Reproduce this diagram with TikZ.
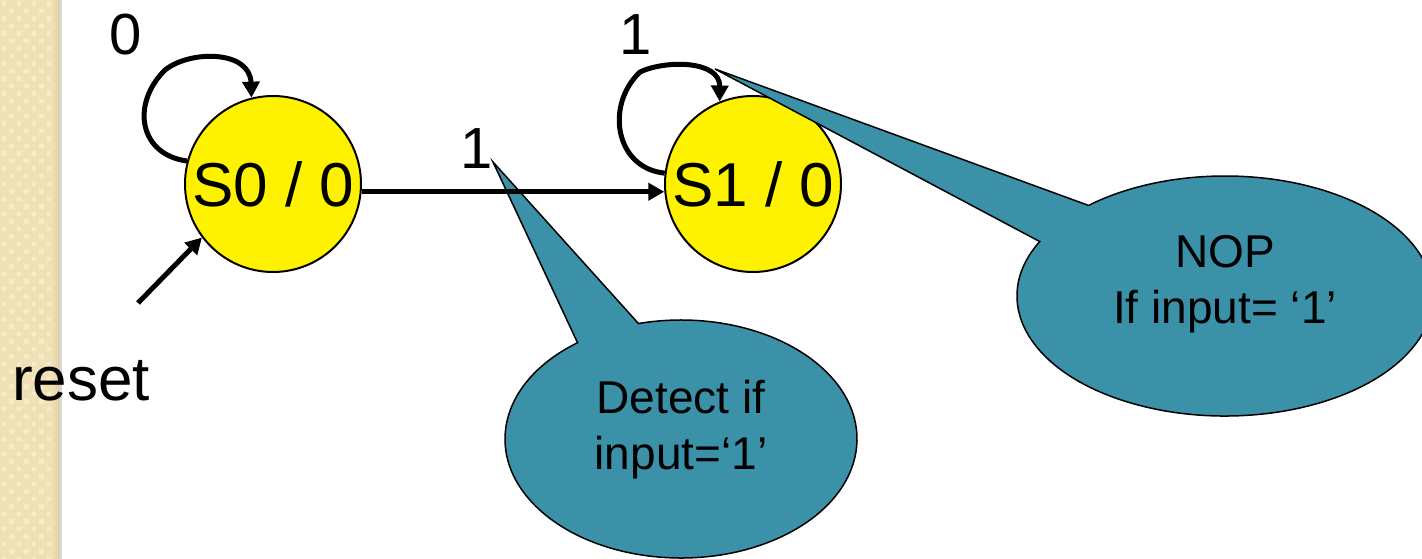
\documentclass[tikz,border=0pt]{standalone}
\usepackage{fontspec}
\setmainfont{Liberation Sans}
\usetikzlibrary{arrows.meta,calc}
\definecolor{bubbleteal}{RGB}{58,145,168}
\definecolor{stripbeige}{RGB}{240,224,182}
\definecolor{stripcell}{RGB}{247,235,200}
\definecolor{stripedge}{RGB}{222,206,166}
\begin{document}
\begin{tikzpicture}[x=1pt,y=-1pt,
  state/.style={circle,draw=black,line width=2pt,fill=yellow,minimum size=176pt,inner sep=0pt,font=\fontsize{62}{74}\selectfont},
  conn/.style={line width=5pt,-{Triangle[length=16pt,width=17pt]}},
  lbl/.style={anchor=base,inner sep=0pt,font=\fontsize{58}{70}\selectfont},
  bubble/.style={fill=bubbleteal,draw=black,line width=1.5pt},
  btext/.style={align=center,inner sep=0pt,font=\fontsize{46}{56}\selectfont}]
\useasboundingbox (0,0) rectangle (1422,559);
\clip (0,0) rectangle (1422,559);
\fill[white] (0,0) rectangle (1422,559);
% textured side strip
\fill[stripbeige] (0,0) rectangle (61,559);
\foreach \i in {0,...,7}{
  \foreach \j in {0,...,74}{
    \pgfmathparse{int(mod(\i+\j,2))}
    \ifnum\pgfmathresult=0
      \fill[stripcell] (\i*7.5+1.5,\j*7.5+1.5) rectangle ++(4.5,4.5);
    \fi
  }
}
\shade[left color=stripbeige,right color=stripedge] (52,0) rectangle (60,559);
\fill[black!15] (60,0) rectangle (61.5,559);
% states
\node[state] (S0) at (273,184) {S0 / 0};
\node[state] (S1) at (753,184) {S1 / 0};
% callouts
\coordinate (b1) at (681,439);
\coordinate (t1) at (493,162);
\draw[bubble] (t1) -- ($(b1)+(126:176pt and 119pt)$) arc[start angle=126,end angle=464,x radius=176pt,y radius=119pt] -- cycle;
\coordinate (b2) at (1225,296);
\coordinate (t2) at (715,69);
\draw[bubble] (t2) -- ($(b2)+(153:208pt and 120pt)$) arc[start angle=153,end angle=491,x radius=208pt,y radius=120pt] -- cycle;
\node[btext] (d1) at (681,430) {Detect if\\input=‘1’};
\node[btext] (d2) at (1225,284) {NOP\\If input= ‘1’};
% transitions
\draw[conn] (S0.-5) -- (S1.185);
\draw[conn] (S0.165) .. controls (140,155) and (130,105) .. (165,70) .. controls (190,50) and (250,50) .. (S0.104);
\draw[conn] (S1.173) .. controls (615,168) and (605,105) .. (640,72) .. controls (665,60) and (720,60) .. (S1.112);
\coordinate (rst) at (138,303);
\draw[conn] (rst) -- (S0.217);
% labels
\node[lbl] (l0) at (126,55) {0};
\node[lbl] (l1) at (636,55) {1};
\node[lbl] (l2) at (477,168) {1};
\node[lbl,font=\fontsize{62}{74}\selectfont] (rs) at (81,400) {reset};
\end{tikzpicture}
\end{document}
